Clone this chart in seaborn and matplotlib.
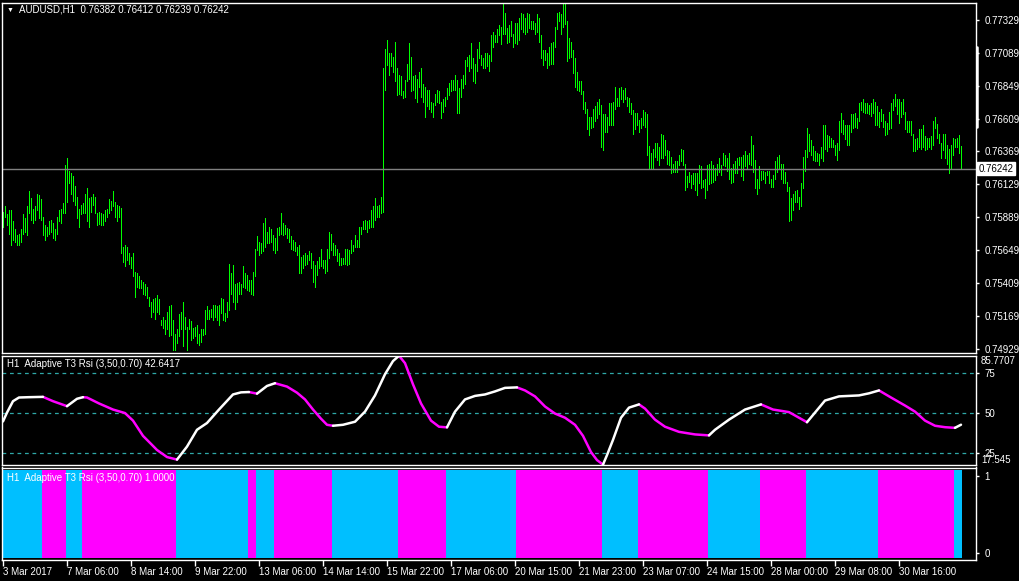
import numpy as np
import pandas as pd
import seaborn as sns
import matplotlib.pyplot as plt
from matplotlib.lines import Line2D

# ---- data ----
symbol_title = "AUDUSD,H1  0.76382 0.76412 0.76239 0.76242"
rsi_title = "H1  Adaptive T3 Rsi (3,50,0.70) 42.6417"
state_title = "H1  Adaptive T3 Rsi (3,50,0.70) 1.0000"
last_close = 0.76242

bar_high = [
    .7593, .7597, .7591, .7594, .7594, .7586, .7580, .7576, .7577, .7580,
    .7591, .7588, .7597, .7608, .7603, .7595, .7597, .7606, .7605, .7602,
    .7589, .7583, .7582, .7586, .7587, .7585, .7580, .7589, .7594, .7595,
    .7599, .7627, .7632, .7623, .7621, .7619, .7612, .7604, .7595, .7598,
    .7599, .7606, .7610, .7603, .7604, .7606, .7604, .7592, .7593, .7592,
    .7591, .7594, .7595, .7602, .7601, .7608, .7600, .7598, .7597, .7596,
    .7567, .7569, .7567, .7563, .7560, .7563, .7549, .7548, .7546, .7543,
    .7542, .7540, .7538, .7531, .7527, .7529, .7530, .7532, .7529, .7514,
    .7516, .7514, .7520, .7524, .7525, .7514, .7504, .7507, .7518, .7520,
    .7527, .7516, .7509, .7515, .7513, .7508, .7509, .7510, .7504, .7507,
    .7507, .7521, .7524, .7521, .7522, .7525, .7525, .7524, .7525, .7530,
    .7529, .7519, .7527, .7555, .7548, .7554, .7540, .7541, .7542, .7540,
    .7553, .7548, .7547, .7543, .7543, .7549, .7566, .7575, .7571, .7570,
    .7585, .7588, .7578, .7582, .7580, .7576, .7574, .7581, .7582, .7592,
    .7585, .7583, .7581, .7580, .7575, .7572, .7571, .7567, .7569, .7560,
    .7561, .7563, .7561, .7564, .7563, .7557, .7554, .7557, .7560, .7566,
    .7558, .7558, .7566, .7578, .7577, .7570, .7569, .7566, .7563, .7559,
    .7559, .7566, .7566, .7565, .7572, .7569, .7576, .7572, .7582, .7582,
    .7586, .7587, .7586, .7587, .7594, .7597, .7603, .7597, .7598, .7604,
    .7698, .7712, .7718, .7709, .7709, .7706, .7717, .7698, .7693, .7692,
    .7681, .7689, .7701, .7716, .7706, .7692, .7693, .7690, .7695, .7698,
    .7686, .7684, .7682, .7682, .7673, .7672, .7679, .7682, .7681, .7673,
    .7675, .7677, .7683, .7687, .7689, .7689, .7693, .7689, .7683, .7690,
    .7693, .7704, .7706, .7707, .7716, .7705, .7701, .7712, .7717, .7707,
    .7705, .7709, .7709, .7707, .7722, .7724, .7722, .7726, .7729, .7728,
    .7746, .7738, .7727, .7729, .7732, .7723, .7731, .7731, .7734, .7738,
    .7737, .7734, .7738, .7737, .7732, .7732, .7731, .7737, .7734, .7722,
    .7711, .7711, .7709, .7713, .7716, .7717, .7728, .7738, .7739, .7737,
    .7746, .7746, .7732, .7720, .7717, .7711, .7705, .7695, .7688, .7688,
    .7681, .7673, .7668, .7662, .7662, .7668, .7670, .7673, .7675, .7671,
    .7664, .7664, .7662, .7672, .7672, .7673, .7684, .7676, .7683, .7684,
    .7682, .7683, .7677, .7676, .7672, .7667, .7665, .7665, .7660, .7661,
    .7667, .7666, .7664, .7641, .7636, .7639, .7643, .7643, .7640, .7650,
    .7649, .7645, .7638, .7637, .7633, .7628, .7630, .7630, .7634, .7639,
    .7638, .7628, .7619, .7622, .7620, .7621, .7621, .7621, .7627, .7626,
    .7616, .7617, .7627, .7628, .7630, .7627, .7625, .7628, .7632, .7627,
    .7636, .7634, .7632, .7636, .7625, .7628, .7630, .7632, .7633, .7633,
    .7634, .7637, .7634, .7636, .7648, .7642, .7631, .7617, .7626, .7623,
    .7623, .7622, .7623, .7623, .7617, .7620, .7630, .7633, .7634, .7628,
    .7628, .7622, .7615, .7611, .7603, .7606, .7608, .7609, .7604, .7614,
    .7633, .7638, .7654, .7650, .7645, .7641, .7637, .7636, .7635, .7640,
    .7656, .7656, .7649, .7648, .7647, .7645, .7642, .7643, .7659, .7665,
    .7660, .7656, .7656, .7656, .7664, .7664, .7665, .7661, .7672, .7673,
    .7675, .7672, .7672, .7671, .7672, .7675, .7673, .7670, .7666, .7668,
    .7664, .7659, .7658, .7666, .7672, .7675, .7679, .7675, .7675, .7673,
    .7675, .7666, .7659, .7659, .7659, .7650, .7646, .7647, .7653, .7653,
    .7656, .7648, .7647, .7647, .7648, .7659, .7662, .7657, .7650, .7643,
    .7650, .7650, .7642, .7639, .7642, .7647, .7646, .7647, .7649, .76412,
]

bar_low = [
    .7582, .7589, .7583, .7577, .7569, .7572, .7571, .7569, .7569, .7571,
    .7577, .7578, .7576, .7592, .7587, .7585, .7587, .7594, .7588, .7587,
    .7576, .7572, .7575, .7577, .7578, .7574, .7572, .7577, .7586, .7585,
    .7592, .7592, .7600, .7614, .7606, .7601, .7598, .7588, .7582, .7591,
    .7592, .7592, .7586, .7582, .7593, .7598, .7592, .7583, .7584, .7583,
    .7583, .7586, .7589, .7592, .7594, .7597, .7589, .7586, .7589, .7563,
    .7556, .7553, .7558, .7555, .7552, .7546, .7531, .7538, .7537, .7537,
    .7533, .7532, .7530, .7524, .7516, .7520, .7515, .7520, .7518, .7510,
    .7508, .7504, .7507, .7502, .7503, .7492, .7492, .7497, .7502, .7507,
    .7495, .7507, .7492, .7507, .7499, .7501, .7502, .7497, .7496, .7498,
    .7503, .7504, .7515, .7515, .7516, .7514, .7516, .7514, .7510, .7519,
    .7514, .7513, .7516, .7521, .7533, .7527, .7522, .7527, .7533, .7533,
    .7538, .7537, .7536, .7535, .7533, .7532, .7546, .7565, .7561, .7563,
    .7564, .7567, .7570, .7570, .7571, .7565, .7563, .7565, .7576, .7577,
    .7576, .7577, .7574, .7571, .7566, .7565, .7564, .7561, .7548, .7548,
    .7552, .7554, .7555, .7558, .7552, .7542, .7538, .7547, .7552, .7553,
    .7552, .7548, .7550, .7559, .7565, .7561, .7561, .7557, .7554, .7554,
    .7555, .7555, .7554, .7555, .7563, .7564, .7567, .7567, .7567, .7577,
    .7580, .7580, .7578, .7581, .7582, .7582, .7587, .7589, .7589, .7592,
    .7593, .7682, .7700, .7693, .7699, .7695, .7688, .7678, .7679, .7678,
    .7676, .7677, .7688, .7690, .7681, .7682, .7676, .7673, .7684, .7677,
    .7673, .7662, .7670, .7668, .7666, .7662, .7671, .7673, .7672, .7661,
    .7666, .7670, .7675, .7678, .7681, .7682, .7682, .7665, .7665, .7677,
    .7683, .7686, .7699, .7696, .7698, .7688, .7687, .7696, .7705, .7700,
    .7698, .7698, .7699, .7696, .7703, .7713, .7717, .7717, .7722, .7715,
    .7723, .7723, .7716, .7717, .7721, .7713, .7716, .7715, .7718, .7726,
    .7724, .7723, .7724, .7727, .7726, .7726, .7723, .7724, .7717, .7705,
    .7700, .7704, .7698, .7700, .7701, .7701, .7713, .7726, .7732, .7723,
    .7728, .7730, .7703, .7705, .7706, .7694, .7684, .7682, .7681, .7679,
    .7668, .7665, .7653, .7649, .7654, .7655, .7659, .7661, .7664, .7640,
    .7638, .7651, .7651, .7656, .7656, .7656, .7668, .7670, .7670, .7675,
    .7673, .7675, .7670, .7666, .7664, .7650, .7653, .7656, .7651, .7654,
    .7656, .7655, .7634, .7625, .7625, .7625, .7633, .7631, .7627, .7632,
    .7632, .7634, .7628, .7627, .7621, .7622, .7622, .7622, .7627, .7630,
    .7627, .7609, .7611, .7615, .7610, .7613, .7609, .7605, .7614, .7610,
    .7611, .7603, .7609, .7613, .7614, .7615, .7616, .7620, .7622, .7620,
    .7627, .7626, .7623, .7617, .7614, .7615, .7621, .7621, .7627, .7619,
    .7616, .7626, .7625, .7628, .7627, .7622, .7610, .7606, .7610, .7616,
    .7617, .7614, .7620, .7614, .7611, .7611, .7617, .7622, .7625, .7617,
    .7614, .7614, .7608, .7586, .7587, .7594, .7600, .7600, .7595, .7597,
    .7610, .7623, .7633, .7637, .7634, .7631, .7630, .7630, .7627, .7632,
    .7630, .7639, .7637, .7640, .7640, .7640, .7634, .7631, .7638, .7651,
    .7650, .7646, .7642, .7642, .7651, .7654, .7655, .7654, .7659, .7667,
    .7666, .7665, .7665, .7664, .7663, .7665, .7656, .7656, .7655, .7659,
    .7655, .7649, .7650, .7653, .7654, .7667, .7670, .7664, .7658, .7662,
    .7664, .7653, .7651, .7651, .7649, .7637, .7637, .7639, .7640, .7639,
    .7640, .7638, .7639, .7640, .7639, .7642, .7654, .7647, .7643, .7632,
    .7638, .7632, .7628, .7621, .7625, .7634, .7640, .7640, .7636, .76239,
]

price_ticks = [0.77329, 0.77089, 0.76849, 0.76609, 0.76369, 0.76129,
               0.75889, 0.75649, 0.75409, 0.75169, 0.74929]

# Adaptive T3 RSI, read at a set of bars
rsi_bar = [0, 2, 5, 8, 13, 20, 25, 32, 37, 40, 42, 48, 55, 61, 65, 70, 74, 77, 82, 87,
           92, 97, 102, 108, 115, 119, 123, 127, 132, 136, 142, 147, 151, 155, 159, 162,
           165, 170, 176, 181, 186, 191, 195, 198, 201, 205, 209, 214, 218, 222, 226,
           231, 236, 241, 246, 251, 257, 261, 266, 271, 276, 281, 286, 290, 294, 297,
           300, 302, 305, 309, 313, 318, 321, 326, 331, 338, 346, 353, 356, 363, 371,
           379, 385, 393, 398, 402, 406, 411, 418, 428, 433, 438, 444, 451, 456, 461,
           466, 471, 476, 479]
rsi_value = [44.7, 50.2, 57.3, 59.6, 59.8, 60.0, 57.3, 54.2, 58.8, 59.8, 59.6, 55.9, 52.1,
             49.9, 45.2, 35.7, 30.7, 26.9, 22.5, 20.9, 29.0, 39.5, 43.7, 52.1, 61.5, 62.8,
             63.0, 62.0, 66.8, 68.5, 66.4, 62.6, 58.4, 52.1, 46.4, 42.6, 42.0, 42.6, 44.5,
             50.8, 60.9, 74.1, 82.3, 85.6, 81.0, 67.8, 55.9, 45.2, 41.4, 41.0, 50.8, 58.4,
             60.6, 61.5, 63.4, 65.6, 65.9, 64.0, 60.3, 54.0, 49.6, 47.0, 42.6, 35.7, 25.6,
             20.6, 17.8, 23.7, 33.2, 47.0, 53.3, 55.3, 52.7, 45.8, 41.4, 38.2, 36.6, 36.0,
             39.5, 45.8, 52.1, 55.3, 52.1, 50.5, 47.0, 44.2, 50.2, 57.7, 60.3, 60.9, 62.2,
             64.0, 59.6, 54.6, 50.8, 45.2, 42.0, 41.1, 40.7, 42.64]
rsi_levels = [75, 50, 25]
rsi_min, rsi_max = 17.545, 85.7707

# trend state runs (1 = rising, -1 = falling), in bars
trend_state = [1, -1, 1, -1, 1, -1, 1, -1, 1, -1, 1, -1, 1, -1, 1, -1, 1, -1, 1]
trend_length = [20, 12, 8, 47, 36, 4, 9, 29, 33, 24, 35, 43, 18, 35, 26, 23, 36, 38, 4]

date_labels = ["3 Mar 2017", "7 Mar 06:00", "8 Mar 14:00", "9 Mar 22:00", "13 Mar 06:00",
               "14 Mar 14:00", "15 Mar 22:00", "17 Mar 06:00", "20 Mar 15:00",
               "21 Mar 23:00", "23 Mar 07:00", "24 Mar 15:00", "28 Mar 00:00",
               "29 Mar 08:00", "30 Mar 16:00"]
bars_per_label = 32

# ---- colours ----
BAR_GREEN = '#00FF00'
MAGENTA = '#FF00FF'
CYAN = '#00BFFF'
LEVEL = '#2FA8A8'

sns.set_style('dark', {'axes.facecolor': 'black', 'figure.facecolor': 'black'})
plt.rcParams['font.family'] = ['Liberation Sans', 'DejaVu Sans']
plt.rcParams['font.size'] = 7

W, H = 1020, 581
fig = plt.figure(figsize=(W / 100, H / 100), dpi=100, facecolor='black')


def box(left, top, right, bottom):
    return [left / W, 1 - bottom / H, (right - left) / W, (bottom - top) / H]


ax_p = fig.add_axes(box(2, 2.7, 976.5, 352.5))
ax_r = fig.add_axes(box(2, 355.5, 976.5, 465))
ax_h = fig.add_axes(box(2, 467.5, 976.5, 560))

n = len(bar_high)
idx = np.arange(n)
state_per_bar = np.repeat(trend_state, trend_length)

for ax in (ax_p, ax_r, ax_h):
    ax.set_facecolor('black')
    ax.set_xlim(-0.5, 486.75)
    ax.grid(False)
    for s in ax.spines.values():
        s.set_visible(True)
        s.set_color('white')
        s.set_linewidth(1)
    ax.yaxis.tick_right()
    ax.tick_params(axis='y', colors='white', labelcolor='white', length=2.5, width=1,
                   pad=3, labelsize=7, left=False, right=True)
    ax.tick_params(axis='x', bottom=False, labelbottom=False)
    ax.set_xlabel('')
    ax.set_ylabel('')

# price bars
ax_p.vlines(idx, bar_low, bar_high, colors=BAR_GREEN, linewidth=0.6, antialiased=False)
ax_p.axhline(last_close, color='#808080', lw=1)
ax_p.set_ylim(0.74902, 0.77455)
ax_p.set_yticks(price_ticks)
ax_p.set_yticklabels([f'{t:.5f}' for t in price_ticks])
ax_p.text(1.0025, last_close, f'{last_close:.5f}', transform=ax_p.get_yaxis_transform(),
          ha='left', va='center', color='black', fontsize=7, clip_on=False, zorder=5,
          bbox=dict(boxstyle='square,pad=0.15', fc='white', ec='white'))

# RSI panel
for lv in rsi_levels:
    ax_r.axhline(lv, color=LEVEL, lw=0.9, ls=(0, (3, 3)))

rsi = pd.DataFrame({'bar': rsi_bar, 'rsi': rsi_value})
rsi['state'] = state_per_bar[rsi['bar'].to_numpy()]
rsi['run'] = (rsi['state'] != rsi['state'].shift()).cumsum()
pieces = []
for run_id, part in rsi.groupby('run'):
    nxt = part.index[-1] + 1
    if nxt < len(rsi):
        part = pd.concat([part, rsi.loc[[nxt]].assign(state=part['state'].iloc[0], run=run_id)])
    pieces.append(part)
segs = pd.concat(pieces, ignore_index=True)

sns.lineplot(data=segs, x='bar', y='rsi', hue='state', units='run', estimator=None,
             palette={1: 'white', -1: MAGENTA}, linewidth=1.8, legend=False, sort=False,
             solid_capstyle='round', ax=ax_r)
ax_r.set_xlim(-0.5, 486.75)
ax_r.set_ylim(rsi_min, rsi_max)
ax_r.set_yticks(rsi_levels)
ax_r.set_yticklabels([str(v) for v in rsi_levels])
ax_r.set_xlabel('')
ax_r.set_ylabel('')
ax_r.tick_params(axis='x', bottom=False, labelbottom=False)
yt = ax_r.get_yaxis_transform()
ax_r.text(1.0045, rsi_max, f'{rsi_max:g}', transform=yt, ha='left', va='top',
          color='white', fontsize=7, clip_on=False)
ax_r.text(1.0045, rsi_min, f'{rsi_min:g}', transform=yt, ha='left', va='bottom',
          color='white', fontsize=7, clip_on=False)

# trend state histogram
ax_h.bar(idx, 1.15, bottom=-0.07, width=1.0, linewidth=0, antialiased=False,
         color=[CYAN if s > 0 else MAGENTA for s in state_per_bar])
ax_h.set_ylim(-0.095, 1.111)
ax_h.set_yticks([1, 0])
ax_h.set_yticklabels(['1', '0'])
ax_h.set_xticks(np.arange(len(date_labels)) * bars_per_label)
ax_h.set_xticklabels(date_labels, ha='left')
ax_h.tick_params(axis='x', bottom=True, labelbottom=True, colors='white', labelcolor='white',
                 length=4, width=1, pad=1, labelsize=7, direction='out')

# panel captions
fig.text(7 / W, 1 - 10 / H, '\u25bc', color='white', fontsize=5, va='center', ha='left')
fig.text(19 / W, 1 - 10 / H, symbol_title, color='white', fontsize=7, va='center', ha='left')
fig.text(7 / W, 1 - 364 / H, rsi_title, color='white', fontsize=7, va='center', ha='left')
fig.text(7 / W, 1 - 478 / H, state_title, color='white', fontsize=7, va='center', ha='left')

# scroll marker on the price scale
fig.add_artist(Line2D([977.5 / W, 977.5 / W], [1 - 47 / H, 1 - 127 / H], color='white', lw=1.8))

fig.savefig('out.png', dpi=100, facecolor='black')
